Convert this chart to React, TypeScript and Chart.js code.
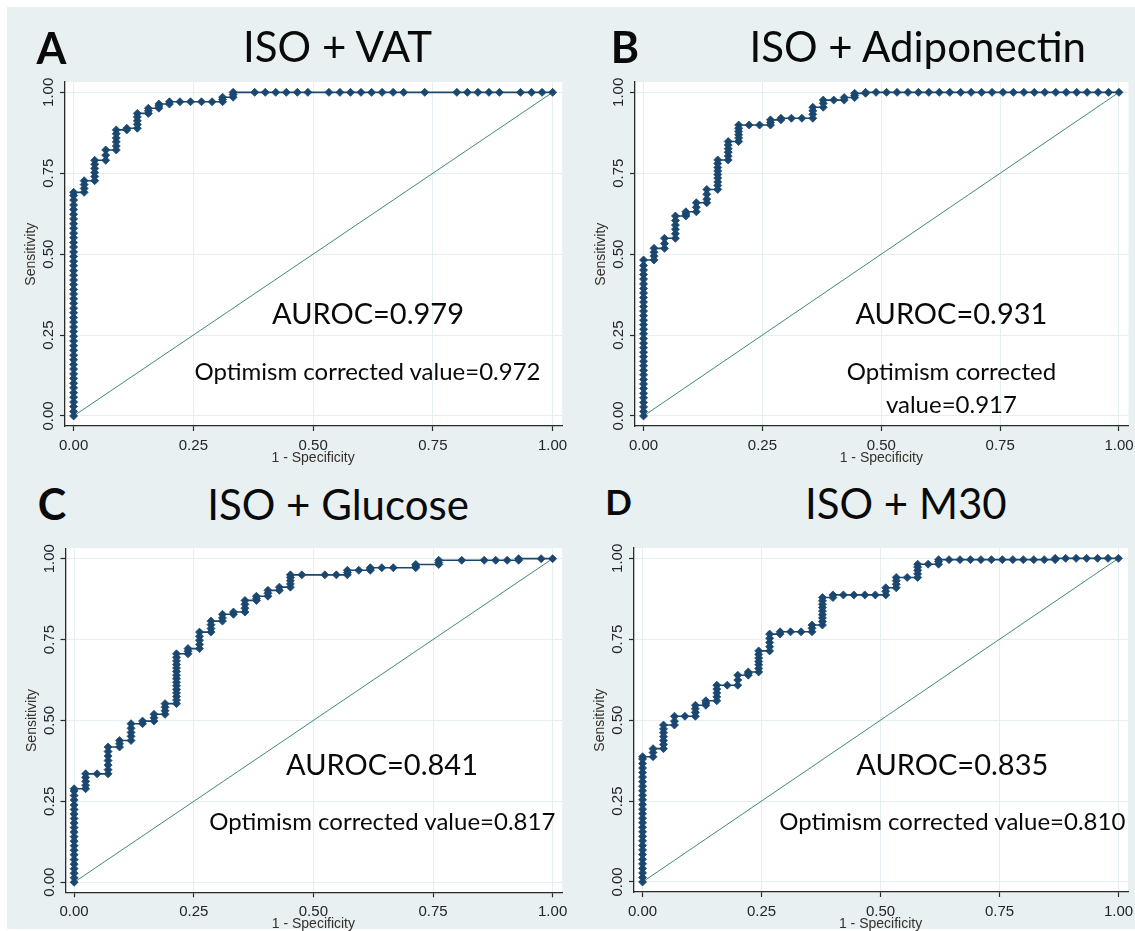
import React, { useEffect, useRef } from "react";
import { Chart, registerables } from "chart.js";

Chart.register(...registerables);

// ---------- shared axis content ----------
const TICK_VALUES = [0, 0.25, 0.5, 0.75, 1];
const TICK_LABELS = ["0.00", "0.25", "0.50", "0.75", "1.00"];
const X_TITLE = "1 - Specificity";
const Y_TITLE = "Sensitivity";
const DIAG_X = [0, 1];
const DIAG_Y = [0, 1];

// ---------- Panel A: ISO + VAT ----------
const A_ZERO_TPR = [0, 0.014, 0.029, 0.043, 0.058, 0.072, 0.087, 0.101, 0.116, 0.13, 0.145, 0.159, 0.174, 0.188, 0.203, 0.217, 0.232, 0.246, 0.261, 0.275, 0.29, 0.304, 0.319, 0.333, 0.348, 0.362, 0.377, 0.391, 0.406, 0.42, 0.435, 0.449, 0.464, 0.478, 0.493, 0.507, 0.522, 0.536, 0.551, 0.565, 0.58, 0.594, 0.609, 0.623, 0.638, 0.652, 0.667, 0.681, 0.691];
const A_ROC: [number, number][] = [
  [0.022, 0.691], [0.022, 0.703], [0.022, 0.715], [0.022, 0.727],
  [0.044, 0.727], [0.044, 0.74], [0.044, 0.752], [0.044, 0.765], [0.044, 0.778], [0.044, 0.79],
  [0.067, 0.79], [0.067, 0.806], [0.067, 0.822],
  [0.089, 0.822], [0.089, 0.834], [0.089, 0.847], [0.089, 0.859], [0.089, 0.872], [0.089, 0.884],
  [0.111, 0.884], [0.111, 0.889],
  [0.133, 0.889], [0.133, 0.901], [0.133, 0.912], [0.133, 0.924], [0.133, 0.935],
  [0.156, 0.935], [0.156, 0.943], [0.156, 0.951],
  [0.178, 0.951], [0.178, 0.958], [0.178, 0.964],
  [0.2, 0.964], [0.2, 0.971],
  [0.222, 0.971], [0.244, 0.971], [0.267, 0.971], [0.289, 0.971],
  [0.311, 0.971], [0.311, 0.978], [0.311, 0.985],
  [0.333, 0.985], [0.333, 0.993], [0.333, 1],
  [0.378, 1], [0.4, 1], [0.422, 1], [0.444, 1], [0.467, 1], [0.489, 1], [0.533, 1], [0.556, 1],
  [0.578, 1], [0.6, 1], [0.622, 1], [0.644, 1], [0.667, 1], [0.689, 1], [0.733, 1], [0.8, 1],
  [0.822, 1], [0.844, 1], [0.867, 1], [0.889, 1], [0.933, 1], [0.956, 1], [0.978, 1], [1, 1],
];

// ---------- Panel B: ISO + Adiponectin ----------
const B_ZERO_TPR = [0, 0.014, 0.028, 0.042, 0.056, 0.07, 0.085, 0.099, 0.113, 0.127, 0.141, 0.155, 0.169, 0.183, 0.197, 0.211, 0.225, 0.239, 0.254, 0.268, 0.282, 0.296, 0.31, 0.324, 0.338, 0.352, 0.366, 0.38, 0.394, 0.408, 0.423, 0.437, 0.451, 0.465, 0.482];
const B_ROC: [number, number][] = [
  [0.022, 0.482], [0.022, 0.494], [0.022, 0.506], [0.022, 0.518],
  [0.044, 0.518], [0.044, 0.533], [0.044, 0.549],
  [0.067, 0.549], [0.067, 0.563], [0.067, 0.577], [0.067, 0.59], [0.067, 0.604], [0.067, 0.618],
  [0.089, 0.618], [0.089, 0.624], [0.089, 0.631],
  [0.111, 0.631], [0.111, 0.645], [0.111, 0.659],
  [0.133, 0.659], [0.133, 0.67], [0.133, 0.685], [0.133, 0.7],
  [0.156, 0.7], [0.156, 0.712], [0.156, 0.723], [0.156, 0.735], [0.156, 0.746], [0.156, 0.757], [0.156, 0.768], [0.156, 0.78], [0.156, 0.791],
  [0.178, 0.791], [0.178, 0.803], [0.178, 0.815], [0.178, 0.826], [0.178, 0.837], [0.178, 0.848],
  [0.2, 0.848], [0.2, 0.859], [0.2, 0.869], [0.2, 0.879], [0.2, 0.889], [0.2, 0.899],
  [0.222, 0.899], [0.244, 0.899],
  [0.267, 0.899], [0.267, 0.907], [0.267, 0.915],
  [0.289, 0.915], [0.289, 0.92], [0.311, 0.92], [0.333, 0.92],
  [0.356, 0.92], [0.356, 0.932], [0.356, 0.943], [0.356, 0.954],
  [0.378, 0.954], [0.378, 0.966], [0.378, 0.976],
  [0.4, 0.976], [0.422, 0.976], [0.422, 0.984],
  [0.444, 0.984], [0.444, 0.99], [0.444, 0.997],
  [0.467, 0.997], [0.467, 1],
  [0.489, 1], [0.511, 1], [0.533, 1], [0.556, 1], [0.578, 1], [0.6, 1], [0.622, 1], [0.644, 1],
  [0.667, 1], [0.689, 1], [0.711, 1], [0.733, 1], [0.756, 1], [0.778, 1], [0.8, 1], [0.822, 1],
  [0.844, 1], [0.867, 1], [0.889, 1], [0.911, 1], [0.933, 1], [0.956, 1], [0.978, 1], [1, 1],
];

// ---------- Panel C: ISO + Glucose ----------
const C_ZERO_TPR = [0, 0.014, 0.028, 0.042, 0.056, 0.07, 0.085, 0.099, 0.113, 0.127, 0.141, 0.155, 0.169, 0.183, 0.197, 0.211, 0.225, 0.239, 0.254, 0.268, 0.282, 0.289];
const C_ROC: [number, number][] = [
  [0.024, 0.289], [0.024, 0.3], [0.024, 0.312], [0.024, 0.324], [0.024, 0.335],
  [0.048, 0.335],
  [0.071, 0.335], [0.071, 0.348], [0.071, 0.362], [0.071, 0.376], [0.071, 0.39], [0.071, 0.404], [0.071, 0.418],
  [0.095, 0.418], [0.095, 0.428], [0.095, 0.438],
  [0.119, 0.438], [0.119, 0.451], [0.119, 0.463], [0.119, 0.476], [0.119, 0.49],
  [0.143, 0.49], [0.143, 0.498],
  [0.167, 0.498], [0.167, 0.508], [0.167, 0.519],
  [0.19, 0.519], [0.19, 0.53], [0.19, 0.541], [0.19, 0.552],
  [0.214, 0.552], [0.214, 0.563], [0.214, 0.574], [0.214, 0.585], [0.214, 0.596], [0.214, 0.607], [0.214, 0.618], [0.214, 0.629],
  [0.214, 0.64], [0.214, 0.651], [0.214, 0.662], [0.214, 0.673], [0.214, 0.684], [0.214, 0.695], [0.214, 0.706],
  [0.238, 0.706], [0.238, 0.714], [0.238, 0.722],
  [0.262, 0.722], [0.262, 0.735], [0.262, 0.748], [0.262, 0.76], [0.262, 0.773],
  [0.286, 0.773], [0.286, 0.784], [0.286, 0.796], [0.286, 0.807],
  [0.31, 0.807], [0.31, 0.817], [0.31, 0.828],
  [0.333, 0.828], [0.333, 0.835],
  [0.357, 0.835], [0.357, 0.847], [0.357, 0.859], [0.357, 0.871],
  [0.381, 0.871], [0.381, 0.877], [0.381, 0.884],
  [0.405, 0.884], [0.405, 0.893], [0.405, 0.902],
  [0.429, 0.902], [0.429, 0.912],
  [0.452, 0.912], [0.452, 0.922], [0.452, 0.932], [0.452, 0.942], [0.452, 0.95],
  [0.476, 0.95], [0.524, 0.95], [0.548, 0.95],
  [0.571, 0.95], [0.571, 0.957], [0.571, 0.964],
  [0.595, 0.964], [0.619, 0.964], [0.619, 0.968], [0.619, 0.972],
  [0.643, 0.972], [0.667, 0.972],
  [0.714, 0.972], [0.714, 0.977], [0.714, 0.982],
  [0.762, 0.982], [0.762, 0.988], [0.762, 0.995],
  [0.81, 0.995], [0.857, 0.995], [0.881, 0.995], [0.905, 0.995],
  [0.929, 0.995], [0.929, 1], [0.976, 1], [1, 1],
];

// ---------- Panel D: ISO + M30 ----------
const D_ZERO_TPR = [0, 0.014, 0.028, 0.042, 0.056, 0.07, 0.085, 0.099, 0.113, 0.127, 0.141, 0.155, 0.169, 0.183, 0.197, 0.211, 0.225, 0.239, 0.254, 0.268, 0.282, 0.296, 0.31, 0.324, 0.338, 0.352, 0.366, 0.38, 0.387];
const D_ROC: [number, number][] = [
  [0.022, 0.387], [0.022, 0.4], [0.022, 0.412],
  [0.044, 0.412], [0.044, 0.425], [0.044, 0.437], [0.044, 0.449], [0.044, 0.461], [0.044, 0.473], [0.044, 0.485],
  [0.067, 0.485], [0.067, 0.497], [0.067, 0.512],
  [0.089, 0.512],
  [0.111, 0.512], [0.111, 0.524], [0.111, 0.535], [0.111, 0.546],
  [0.133, 0.546], [0.133, 0.553], [0.133, 0.56],
  [0.156, 0.56], [0.156, 0.572], [0.156, 0.584], [0.156, 0.596], [0.156, 0.608],
  [0.178, 0.608],
  [0.2, 0.608], [0.2, 0.624], [0.2, 0.639],
  [0.222, 0.639], [0.222, 0.644], [0.222, 0.649],
  [0.244, 0.649], [0.244, 0.66], [0.244, 0.671], [0.244, 0.681], [0.244, 0.692], [0.244, 0.703], [0.244, 0.714],
  [0.267, 0.714], [0.267, 0.727], [0.267, 0.74], [0.267, 0.753], [0.267, 0.766],
  [0.289, 0.766], [0.289, 0.773], [0.311, 0.773], [0.333, 0.773],
  [0.356, 0.773], [0.356, 0.784], [0.356, 0.794],
  [0.378, 0.794], [0.378, 0.805], [0.378, 0.816], [0.378, 0.826], [0.378, 0.837], [0.378, 0.848], [0.378, 0.858], [0.378, 0.869], [0.378, 0.879],
  [0.4, 0.879], [0.4, 0.887],
  [0.422, 0.887], [0.444, 0.887], [0.467, 0.887], [0.489, 0.887],
  [0.511, 0.887], [0.511, 0.898], [0.511, 0.909],
  [0.533, 0.909], [0.533, 0.92], [0.533, 0.931], [0.533, 0.941],
  [0.556, 0.941],
  [0.578, 0.941], [0.578, 0.952], [0.578, 0.963], [0.578, 0.973], [0.578, 0.982],
  [0.6, 0.982],
  [0.622, 0.982], [0.622, 0.99], [0.622, 0.996],
  [0.644, 0.996], [0.667, 0.996], [0.689, 0.996], [0.711, 0.996], [0.733, 0.996], [0.756, 0.996],
  [0.778, 0.996], [0.8, 0.996], [0.822, 0.996], [0.844, 0.996],
  [0.867, 0.996], [0.867, 1],
  [0.889, 1], [0.911, 1], [0.933, 1], [0.956, 1], [0.978, 1], [1, 1],
];

// ---------- texts ----------
const LETTERS = ["A", "B", "C", "D"];
const TITLES = ["ISO + VAT", "ISO + Adiponectin", "ISO + Glucose", "ISO + M30"];
const AUROC_TEXT = ["AUROC=0.979", "AUROC=0.931", "AUROC=0.841", "AUROC=0.835"];
const OPTIMISM_TEXT: string[][] = [
  ["Optimism corrected value=0.972"],
  ["Optimism corrected", "value=0.917"],
  ["Optimism corrected value=0.817"],
  ["Optimism corrected value=0.810"],
];

// ---------- style / layout ----------
const NAVY = "#1a476f";
const TEAL = "#3f8b7a";
const PANEL_BG = "#e8f0f2";
const GRID = "#e5eef0";
const AXIS = "#2a2a2a";
const X_MIN = -0.018;
const X_MAX = 1.02;
const Y_MIN = -0.031;
const Y_MAX = 1.032;
const YW = 30;
const XH = 30;

type Layout = {
  canvas: { x: number; y: number; w: number; h: number };
  area: { L: number; T: number; R: number; B: number };
  letter: { x: number; b: number; size: number };
  title: { x: number; b: number };
  auroc: { x: number; b: number };
  opt: { x: number; b: number[] };
};

const LAYOUTS: Layout[] = [
  {
    canvas: { x: 0, y: 72, w: 567, h: 398 },
    area: { L: 65, T: 82, R: 564, B: 426 },
    letter: { x: 51.5, b: 64, size: 43 },
    title: { x: 337.5, b: 62 },
    auroc: { x: 368, b: 324 },
    opt: { x: 367.5, b: [380] },
  },
  {
    canvas: { x: 567, y: 72, w: 568, h: 398 },
    area: { L: 635, T: 82, R: 1128.5, B: 426 },
    letter: { x: 625, b: 63, size: 43 },
    title: { x: 917.7, b: 62 },
    auroc: { x: 951.4, b: 324 },
    opt: { x: 951.4, b: [380, 413.3] },
  },
  {
    canvas: { x: 0, y: 538, w: 567, h: 393 },
    area: { L: 65.5, T: 548.3, R: 563, B: 892.3 },
    letter: { x: 52, b: 520, size: 43 },
    title: { x: 338, b: 520.5 },
    auroc: { x: 382, b: 775 },
    opt: { x: 382.3, b: [830.7] },
  },
  {
    canvas: { x: 567, y: 538, w: 568, h: 393 },
    area: { L: 634, T: 548, R: 1128, B: 892 },
    letter: { x: 618.5, b: 515, size: 35 },
    title: { x: 905.8, b: 519.5 },
    auroc: { x: 952.3, b: 775 },
    opt: { x: 952.3, b: [830.7] },
  },
];

const ZERO_COLS = [A_ZERO_TPR, B_ZERO_TPR, C_ZERO_TPR, D_ZERO_TPR];
const ROCS = [A_ROC, B_ROC, C_ROC, D_ROC];

const decoPlugin = {
  id: "stataDeco",
  beforeDraw(chart: any) {
    const { ctx, chartArea: ca } = chart;
    ctx.save();
    ctx.fillStyle = "#ffffff";
    ctx.fillRect(ca.left, ca.top, ca.right - ca.left, ca.bottom - ca.top);
    ctx.restore();
  },
  afterDraw(chart: any) {
    const { ctx, chartArea: ca } = chart;
    const xs = chart.scales.x;
    const ys = chart.scales.y;
    ctx.save();
    ctx.fillStyle = "#24242e";
    ctx.font = '15px "Liberation Sans", Arial, sans-serif';
    ctx.textAlign = "center";
    ctx.textBaseline = "alphabetic";
    TICK_VALUES.forEach((v, i) => {
      ctx.fillText(TICK_LABELS[i], xs.getPixelForValue(v), ca.bottom + 24);
    });
    TICK_VALUES.forEach((v, i) => {
      ctx.save();
      ctx.translate(ca.left - 11.7, ys.getPixelForValue(v));
      ctx.rotate(-Math.PI / 2);
      ctx.fillText(TICK_LABELS[i], 0, 0);
      ctx.restore();
    });
    ctx.fillStyle = "#35302c";
    ctx.font = '14px "Liberation Sans", Arial, sans-serif';
    ctx.fillText(X_TITLE, (xs.getPixelForValue(0) + xs.getPixelForValue(1)) / 2, ca.bottom + 36);
    ctx.save();
    ctx.translate(ca.left - 30, (ys.getPixelForValue(0) + ys.getPixelForValue(1)) / 2);
    ctx.rotate(-Math.PI / 2);
    ctx.fillText(Y_TITLE, 0, 0);
    ctx.restore();
    ctx.restore();
  },
};

function RocPanel({ idx }: { idx: number }) {
  const ref = useRef<HTMLCanvasElement | null>(null);
  const lay = LAYOUTS[idx];
  useEffect(() => {
    if (!ref.current) return;
    const c = lay.canvas;
    const a = lay.area;
    const data = [
      ...ZERO_COLS[idx].map((y) => ({ x: 0, y })),
      ...ROCS[idx].map(([x, y]) => ({ x, y })),
    ];
    const diag = DIAG_X.map((x, i) => ({ x, y: DIAG_Y[i] }));
    const scaleCommon = (min: number, max: number) => ({
      type: "linear" as const,
      min,
      max,
      afterBuildTicks: (s: any) => {
        s.ticks = TICK_VALUES.map((v) => ({ value: v }));
      },
      ticks: { display: false },
      grid: { color: GRID, lineWidth: 1, drawTicks: true, tickLength: 5, tickColor: AXIS, tickWidth: 1.2 },
      border: { display: true, color: AXIS, width: 1.3 },
    });
    const chart = new Chart(ref.current, {
      type: "scatter",
      data: {
        datasets: [
          {
            data,
            showLine: true,
            borderColor: NAVY,
            borderWidth: 1.6,
            tension: 0,
            pointStyle: "rectRot",
            pointRadius: 4,
            pointBackgroundColor: NAVY,
            pointBorderColor: NAVY,
            pointBorderWidth: 0.8,
          },
          {
            data: diag,
            showLine: true,
            borderColor: TEAL,
            borderWidth: 1,
            pointRadius: 0,
          },
        ],
      },
      options: {
        responsive: false,
        animation: false,
        events: [],
        layout: {
          padding: {
            left: a.L - c.x - YW,
            top: a.T - c.y,
            right: c.x + c.w - a.R,
            bottom: c.y + c.h - a.B - XH,
          },
        },
        plugins: { legend: { display: false }, tooltip: { enabled: false } },
        scales: {
          x: { ...scaleCommon(X_MIN, X_MAX), position: "bottom", afterFit: (s: any) => { s.height = XH; } },
          y: { ...scaleCommon(Y_MIN, Y_MAX), position: "left", afterFit: (s: any) => { s.width = YW; } },
        },
      } as any,
      plugins: [decoPlugin],
    });
    return () => chart.destroy();
  }, []);
  return (
    <canvas
      ref={ref}
      width={lay.canvas.w}
      height={lay.canvas.h}
      style={{ position: "absolute", left: lay.canvas.x, top: lay.canvas.y, width: lay.canvas.w, height: lay.canvas.h }}
    />
  );
}

function Label({ x, b, size, bold, children }: { x: number; b: number; size: number; bold?: boolean; children: React.ReactNode }) {
  return (
    <div
      style={{
        position: "absolute",
        left: x,
        top: b - 0.887 * size,
        fontFamily: "Lato, 'Open Sans', sans-serif",
        fontSize: size,
        lineHeight: `${size}px`,
        fontWeight: bold ? 700 : 400,
        whiteSpace: "nowrap",
        transform: "translateX(-50%)",
        color: "#0a0a0a",
      }}
    >
      {children}
    </div>
  );
}

export default function App() {
  return (
    <div style={{ position: "absolute", left: 0, top: 0, width: 1135, height: 931, background: "#ffffff", overflow: "hidden" }}>
      <div style={{ position: "absolute", left: 7, top: 7, width: 1128, height: 922, background: PANEL_BG }} />
      {LAYOUTS.map((lay, i) => (
        <React.Fragment key={i}>
          <RocPanel idx={i} />
          <Label x={lay.letter.x} b={lay.letter.b} size={lay.letter.size} bold>{LETTERS[i]}</Label>
          <Label x={lay.title.x} b={lay.title.b} size={42}>{TITLES[i]}</Label>
          <Label x={lay.auroc.x} b={lay.auroc.b} size={29}>{AUROC_TEXT[i]}</Label>
          {OPTIMISM_TEXT[i].map((t, j) => (
            <Label key={j} x={lay.opt.x} b={lay.opt.b[j]} size={24}>{t}</Label>
          ))}
        </React.Fragment>
      ))}
    </div>
  );
}
